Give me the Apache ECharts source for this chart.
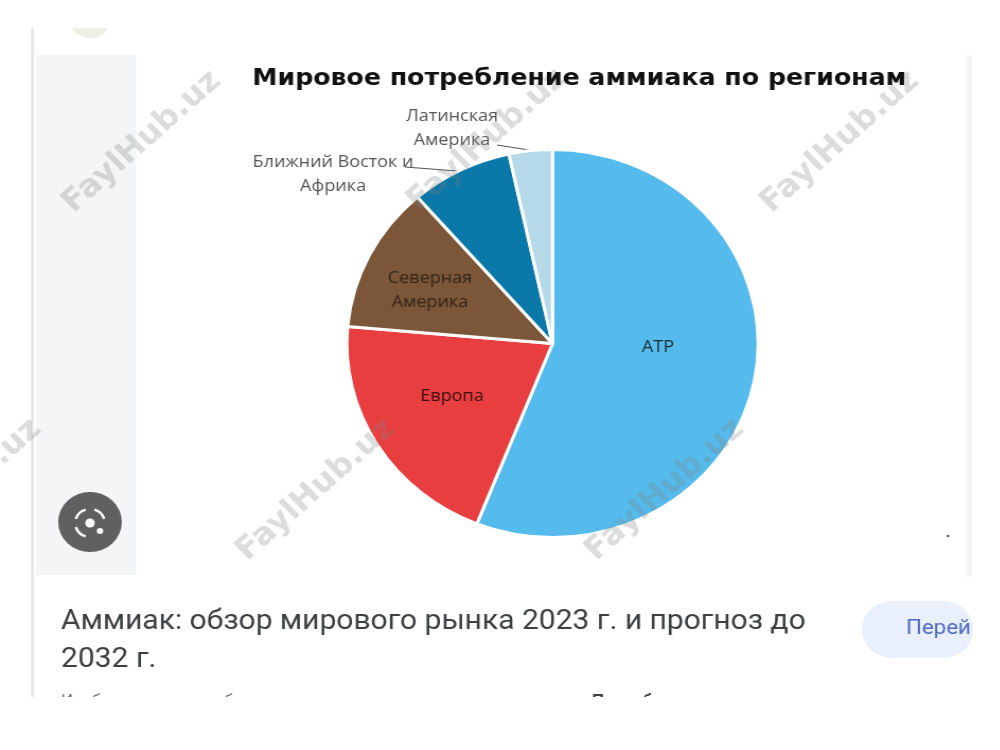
<!DOCTYPE html>
<html>
<head>
<meta charset="utf-8">
<script src="https://cdn.jsdelivr.net/npm/echarts@6/dist/echarts.min.js"></script>
<style>
html, body { margin: 0; padding: 0; background: #fff; overflow: hidden; }
/* the source picture is stretched sideways, so the whole chart is too */
#main { width: 943.4px; height: 750px; transform: scaleX(1.06); transform-origin: 0 0; }
</style>
</head>
<body>
<div id="main"></div>
<script>
var regions = ['АТР', 'Европа', 'Северная\nАмерика', 'Ближний Восток и\nАфрика', 'Латинская\nАмерика'];
var shares = [56, 20.4, 12.2, 8, 3.4];
var colors = ['#54bbec', '#e83e40', '#7b5638', '#0a78a8', '#b5d9e8'];
var labelColors = ['#1c2a33', '#3a0f10', '#33261a', '#555555', '#555555'];
var labelSpots = [[658, 347], [452, 396], [430, 290], [333, 174], [452, 128]];
var leaderEnds = [null, null, null, [[457, 171], [405, 167]], [[529, 150], [497, 145]]];
var marks = [[142, 142], [487, 140], [840, 142], [316, 490], [665, 490], [-38, 490]];

var SX = 1.06;
function X(x) { return x / SX; }

var myChart = echarts.init(document.getElementById('main'));

var page = [
    { type: 'rect', z: 0, shape: { x: X(36), y: 55, width: X(100), height: 520 }, style: { fill: '#f3f5f6' } },
    { type: 'rect', z: 0, shape: { x: X(966), y: 55, width: X(6), height: 522 }, style: { fill: '#f4f5f6' } },
    { type: 'rect', z: 0, shape: { x: X(31), y: 28, width: X(3), height: 670 }, style: { fill: '#e6e7e8' } },
    { type: 'circle', z: 0, shape: { cx: X(90), cy: 18, r: 20 }, style: { fill: '#f0efe6' } },
    { type: 'rect', z: 0, shape: { x: X(60), y: 0, width: X(60), height: 28 }, style: { fill: '#fff' } },
    { type: 'circle', z: 0, shape: { cx: X(90), cy: 522, r: 30 }, style: { fill: '#5f6060' } },
    { type: 'circle', z: 1, shape: { cx: X(90), cy: 523, r: 4.5 }, style: { fill: '#fff' } },
    { type: 'circle', z: 1, shape: { cx: X(100), cy: 531, r: 3 }, style: { fill: '#fff' } },
    { type: 'circle', z: 0, shape: { cx: X(948), cy: 536, r: 1.2 }, style: { fill: '#444' } },
    { type: 'rect', z: 0, shape: { x: X(862), y: 601, width: X(111), height: 57, r: 28 }, style: { fill: '#e9effb' } },
    { type: 'text', z: 1, x: X(906), y: 629, style: { text: 'Перей', fill: '#4d6bc6', font: '21px Roboto', verticalAlign: 'middle' } },
    { type: 'rect', z: 2, shape: { x: X(973), y: 590, width: X(27), height: 80 }, style: { fill: '#fff' } },
    { type: 'text', z: 1, x: X(61), y: 622, style: { text: 'Аммиак: обзор мирового рынка 2023 г. и прогноз до', fill: '#3c4043', font: '28.3px Roboto', verticalAlign: 'middle' } },
    { type: 'text', z: 1, x: X(61), y: 660, style: { text: '2032 г.', fill: '#3c4043', font: '28.3px Roboto', verticalAlign: 'middle' } },
    { type: 'text', z: 1, x: X(61), y: 702, style: { text: 'Изображения могут быть защищены авторским правом.', fill: '#70757a', font: '16px Roboto', verticalAlign: 'middle' } },
    { type: 'text', z: 1, x: X(592), y: 702, style: { text: 'Подробнее', fill: '#3c4043', font: 'bold 16px Roboto', verticalAlign: 'middle' } },
    { type: 'rect', z: 2, shape: { x: 0, y: 697, width: 943.4, height: 53 }, style: { fill: '#fff' } }
];

// corner brackets of the lens button
[[1, 1.5], [1.5, 2], [0.5, 1]].forEach(function (q) {
    page.push({
        type: 'arc', z: 1,
        shape: { cx: X(90), cy: 523, r: 14, startAngle: q[0] * Math.PI + 0.3, endAngle: q[1] * Math.PI - 0.3 },
        style: { stroke: '#fff', lineWidth: 2.5, fill: 'none' }
    });
});

marks.forEach(function (m) {
    page.push({
        type: 'text', z: 6, x: X(m[0]), y: m[1], rotation: 43 * Math.PI / 180,
        style: {
            text: 'FaylHub.uz', fill: 'rgba(130,130,130,0.28)',
            font: 'bold 31px "DejaVu Sans"', align: 'center', verticalAlign: 'middle'
        }
    });
});

var option = {
    backgroundColor: '#fff',
    animation: false,
    title: {
        text: 'Мировое потребление аммиака по регионам',
        left: X(574), top: 62, textAlign: 'center',
        textStyle: { fontFamily: 'DejaVu Sans', fontWeight: 'bold', fontSize: 23.8, color: '#111' }
    },
    graphic: { elements: page },
    series: [{
        type: 'pie',
        z: 5,
        center: [X(552.5), 343.5],
        radius: 194,
        startAngle: 90,
        clockwise: true,
        silent: true,
        data: regions.map(function (r, i) {
            return {
                name: r, value: shares[i],
                itemStyle: { color: colors[i] },
                label: { color: labelColors[i] },
                labelLine: { show: i > 2 }
            };
        }),
        itemStyle: { borderColor: '#fff', borderWidth: 3 },
        label: { fontFamily: 'Open Sans', fontSize: 17, lineHeight: 24, align: 'center' },
        labelLine: { lineStyle: { color: '#555', width: 1.2 }, length: 6, length2: 6 },
        labelLayout: function (params) {
            var i = params.dataIndex;
            var layout = { x: X(labelSpots[i][0]), y: labelSpots[i][1], align: 'center', verticalAlign: 'middle' };
            if (leaderEnds[i]) {
                var a = leaderEnds[i][0], b = leaderEnds[i][1];
                layout.labelLinePoints = [[X(a[0]), a[1]], [X((a[0] + b[0]) / 2), (a[1] + b[1]) / 2], [X(b[0]), b[1]]];
            }
            return layout;
        }
    }]
};

myChart.setOption(option);
</script>
</body>
</html>
